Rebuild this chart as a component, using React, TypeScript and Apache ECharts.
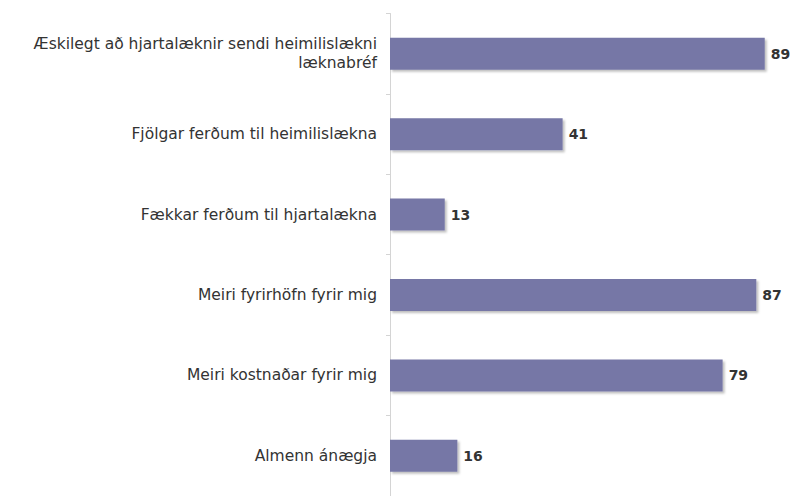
import React, { useEffect, useRef } from "react";
import * as echarts from "echarts";

const categories = [
  "Æskilegt að hjartalæknir sendi heimilislækni\nlæknabréf",
  "Fjölgar ferðum til heimilislækna",
  "Fækkar ferðum til hjartalækna",
  "Meiri fyrirhöfn fyrir mig",
  "Meiri kostnaðar fyrir mig",
  "Almenn ánægja",
];
const values = [89, 41, 13, 87, 79, 16];

export default function App() {
  const ref = useRef<HTMLDivElement>(null);
  useEffect(() => {
    if (!ref.current) return;
    const chart = echarts.init(ref.current, null, { renderer: "svg" });
    chart.setOption({
      animation: false,
      backgroundColor: "#ffffff",
      grid: { left: 390, top: 13.5, width: 400, height: 486, containLabel: false },
      xAxis: {
        type: "value",
        min: 0,
        max: 95,
        show: false,
      },
      yAxis: {
        type: "category",
        inverse: true,
        data: categories,
        axisLine: { show: true, lineStyle: { color: "#d4d4d4", width: 1 } },
        axisTick: { show: true, length: 4, lineStyle: { color: "#d4d4d4" } },
        axisLabel: {
          margin: 13,
          fontFamily: "DejaVu Sans",
          fontSize: 15.5,
          color: "#333333",
          lineHeight: 19,
          align: "right",
        },
      },
      series: [
        {
          type: "bar",
          data: values,
          barWidth: 32,
          itemStyle: {
            color: "#7677a6",
            shadowColor: "rgba(0,0,0,0.25)",
            shadowOffsetX: 2,
            shadowOffsetY: 2,
            shadowBlur: 2,
          },
          label: {
            show: true,
            position: "right",
            distance: 6,
            fontFamily: "DejaVu Sans",
            fontSize: 14,
            fontWeight: "bold",
            color: "#333333",
          },
        },
      ],
    });
    return () => chart.dispose();
  }, []);
  return <div ref={ref} style={{ width: 792, height: 496, position: "absolute", left: 0, top: 0 }} />;
}
